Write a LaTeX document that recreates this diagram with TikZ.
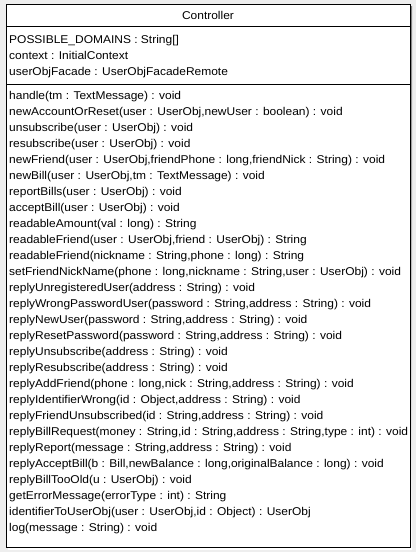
\documentclass[tikz,border=0pt]{standalone}
\usepackage{fontspec}
\setmainfont{Liberation Sans}
\newfontfamily\umlfont[FakeStretch=1.06]{Liberation Sans}
\usepackage{tikz}
\usetikzlibrary{positioning}

\definecolor{canvas}{HTML}{EEEEEE}
\definecolor{shade}{HTML}{8C8C8C}

\tikzset{
  member/.style={anchor=base west, inner sep=0pt, font=\umlfont\fontsize{11.3}{13}\selectfont},
  classname/.style={anchor=base, inner sep=0pt, font=\umlfont\fontsize{11.3}{13}\selectfont}
}

\begin{document}
\begin{tikzpicture}[x=1pt,y=-1pt]
      \fill[canvas] (0,0) rectangle (416,552);
      \useasboundingbox (0,0) rectangle (416,552);
      % class box with its shadow
      \fill[shade] (8,6) rectangle (412,549);
      \draw[fill=white] (6,4) rectangle (410,547);
      \coordinate (sepA) at (6,26.5);
      \coordinate (sepAr) at (410,26.5);
      \coordinate (sepB) at (6,84);
      \coordinate (sepBr) at (410,84);
      \draw (sepA) -- (sepAr);
      \draw (sepB) -- (sepBr);
      \node[classname] at (208,19.5) (name) {Controller};
      % attributes
      \foreach \a [count=\i] in {%
        {POSSIBLE\_DOMAINS : String[]},
        {context : InitialContext},
        {userObjFacade : UserObjFacadeRemote}}
        \node[member] at (9,43.5+16*\i-16) (attr\i) {\a};
      % operations
      \foreach \m [count=\i] in {%
        {handle(tm : TextMessage) : void},
        {newAccountOrReset(user : UserObj,newUser : boolean) : void},
        {unsubscribe(user : UserObj) : void},
        {resubscribe(user : UserObj) : void},
        {newFriend(user : UserObj,friendPhone : long,friendNick : String) : void},
        {newBill(user : UserObj,tm : TextMessage) : void},
        {reportBills(user : UserObj) : void},
        {acceptBill(user : UserObj) : void},
        {readableAmount(val : long) : String},
        {readableFriend(user : UserObj,friend : UserObj) : String},
        {readableFriend(nickname : String,phone : long) : String},
        {setFriendNickName(phone : long,nickname : String,user : UserObj) : void},
        {replyUnregisteredUser(address : String) : void},
        {replyWrongPasswordUser(password : String,address : String) : void},
        {replyNewUser(password : String,address : String) : void},
        {replyResetPassword(password : String,address : String) : void},
        {replyUnsubscribe(address : String) : void},
        {replyResubscribe(address : String) : void},
        {replyAddFriend(phone : long,nick : String,address : String) : void},
        {replyIdentifierWrong(id : Object,address : String) : void},
        {replyFriendUnsubscribed(id : String,address : String) : void},
        {replyBillRequest(money : String,id : String,address : String,type : int) : void},
        {replyReport(message : String,address : String) : void},
        {replyAcceptBill(b : Bill,newBalance : long,originalBalance : long) : void},
        {replyBillTooOld(u : UserObj) : void},
        {getErrorMessage(errorType : int) : String},
        {identifierToUserObj(user : UserObj,id : Object) : UserObj},
        {log(message : String) : void}}
        \node[member] at (9,99.5+16*\i-16) (op\i) {\m};
\end{tikzpicture}
\end{document}
